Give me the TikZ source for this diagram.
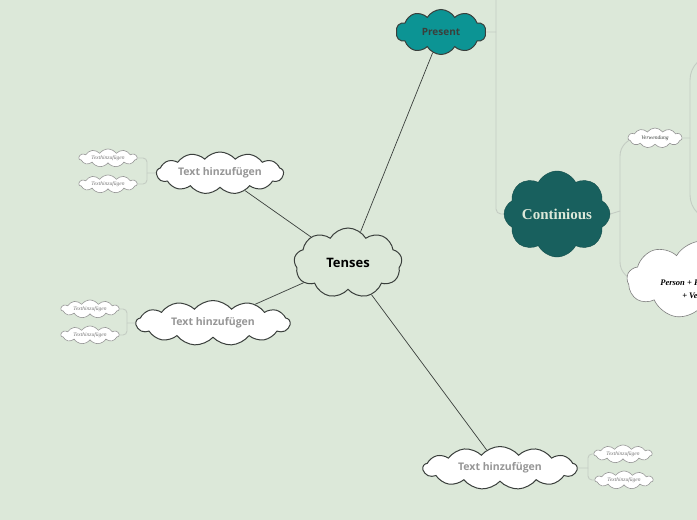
\documentclass[tikz,border=0pt]{standalone}
\usepackage{fontspec}
\newfontfamily\headfont{Open Sans}
\newfontfamily\scriptf{Liberation Serif}
\usetikzlibrary{shapes.symbols,backgrounds}
\definecolor{bg}{RGB}{220,232,217}
\definecolor{teal1}{RGB}{12,148,148}
\definecolor{teal2}{RGB}{24,96,94}
\definecolor{outl}{RGB}{58,63,60}
\definecolor{branchc}{RGB}{196,204,195}
\definecolor{txtgray}{RGB}{150,150,150}
\tikzset{
  cloudbase/.style={cloud, cloud ignores aspect, inner sep=0pt, align=center},
  maincloud/.style={cloudbase, draw=outl, line width=1pt},
  topiccloud/.style={cloudbase, draw=outl, line width=1pt, fill=white, cloud puffs=13, cloud puff arc=100,
     minimum width=150, minimum height=44, text=txtgray, font=\headfont\bfseries\fontsize{10.5}{12}\selectfont},
  smallcloud/.style={cloudbase, draw=txtgray, line width=0.6pt, fill=white, cloud puffs=11, cloud puff arc=110,
     minimum width=58, minimum height=18, text=txtgray!80!black, font=\scriptf\itshape\fontsize{5.5}{6.5}\selectfont},
  link/.style={draw=outl, line width=0.7pt},
  branch/.style={draw=branchc, line width=0.9pt},
}
\begin{document}
\begin{tikzpicture}[x=1pt,y=-1pt]
\useasboundingbox (0,0) rectangle (697,520);
% central
\node[maincloud, fill=bg, cloud puffs=9, cloud puff arc=120, minimum width=108, minimum height=70,
      font=\headfont\bfseries\fontsize{13}{15}\selectfont] (tenses) at (348,263) {Tenses};
% present
\node[maincloud, fill=teal1, cloud puffs=10, cloud puff arc=120, minimum width=90, minimum height=45,
      text=outl, font=\headfont\bfseries\fontsize{10}{12}\selectfont] (present) at (441,32) {Present};
% continious
\node[cloudbase, fill=teal2, draw=teal2!80!black, line width=0.4pt, cloud puffs=8, cloud puff arc=125,
      minimum width=106, minimum height=86, text=bg,
      font=\scriptf\bfseries\fontsize{15}{17}\selectfont] (cont) at (557,214) {Continious};
% verwendung
\node[smallcloud, minimum width=54, minimum height=20, text=outl] (verw) at (655,138) {Verwendung};
% person
\node[cloudbase, draw=gray, line width=0.6pt, fill=white, cloud puffs=9, cloud puff arc=120,
      minimum width=150, minimum height=78] (person) at (702,280) {};
\node[text=black, align=center, font=\scriptf\itshape\bfseries\fontsize{8.5}{13}\selectfont] (persontxt) at (704,290)
   {Person + Form von to be\\+ Verb + ing};
% topic clouds
\node[topiccloud, minimum width=127, minimum height=42] (lt) at (220,173) {Text hinzufügen};
\node[topiccloud, minimum width=154, minimum height=45] (lm) at (213,323) {Text hinzufügen};
\node[topiccloud, minimum width=154, minimum height=43] (bt) at (500,468) {Text hinzufügen};
% small clouds
\node[smallcloud] (lt1) at (108,158) {Texthinzufügen};
\node[smallcloud] (lt2) at (108,184) {Texthinzufügen};
\node[smallcloud] (lm1) at (90,309) {Texthinzufügen};
\node[smallcloud] (lm2) at (90,335) {Texthinzufügen};
\node[smallcloud] (bt1) at (623,454) {Texthinzufügen};
\node[smallcloud] (bt2) at (624,480) {Texthinzufügen};
% junction coordinates
\coordinate (ltj) at (147,173);
\coordinate (lmj) at (127,323);
\coordinate (btj) at (588,468);
\coordinate (pj) at (496,32);
\coordinate (ptop) at (496,-5);
\coordinate (cj) at (620,211);
\coordinate (vj) at (690,138);
\coordinate (vu) at (720,55);
\coordinate (vd) at (720,220);
\begin{pgfonlayer}{background}
\fill[bg] (0,0) rectangle (697,520);
\draw[link] (tenses) -- (present);
\draw[link] (tenses) -- (lt);
\draw[link] (tenses) -- (lm);
\draw[link] (tenses) -- (bt);
\draw[branch] (lt.west) -- (ltj);
\draw[branch, rounded corners=4] (ltj) |- (lt1.east);
\draw[branch, rounded corners=4] (ltj) |- (lt2.east);
\draw[branch] (lm.west) -- (lmj);
\draw[branch, rounded corners=4] (lmj) |- (lm1.east);
\draw[branch, rounded corners=4] (lmj) |- (lm2.east);
\draw[branch] (bt.east) -- (btj);
\draw[branch, rounded corners=4] (btj) |- (bt1.west);
\draw[branch, rounded corners=4] (btj) |- (bt2.west);
\draw[branch] (present.east) -- (pj);
\draw[branch, rounded corners=5] (ptop) -- (pj) |- (cont.west);
\draw[branch] (cont.east) -- (cj);
\draw[branch, rounded corners=18] (cj) |- (verw.west);
\draw[branch, rounded corners=18] (cj) |- (person.west);
\draw[branch] (verw.east) -- (vj);
\draw[branch, rounded corners=25] (vj) |- (vu);
\draw[branch, rounded corners=25] (vj) |- (vd);
\end{pgfonlayer}
\end{tikzpicture}
\end{document}
